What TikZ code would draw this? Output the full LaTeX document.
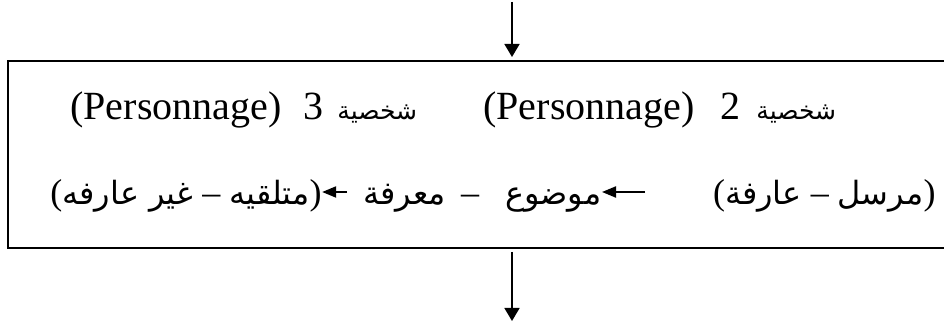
\documentclass[tikz,border=0pt]{standalone}
\usepackage{fontspec}
\setmainfont{Liberation Serif}
\newfontfamily\arabicfont[Script=Arabic]{DejaVu Sans}
\TeXXeTstate=1
\usetikzlibrary{arrows.meta,positioning}
\tikzset{
  flow/.style={line width=0.8pt, -{Triangle[length=6.5pt,width=7.5pt]}},
  link/.style={line width=1pt, -{Triangle[length=7pt,width=5.5pt]}},
  lat/.style={inner sep=0pt, anchor=base west, font=\fontsize{20}{24}\selectfont},
  arb/.style={inner sep=0pt, font=\fontsize{18}{22}\selectfont},
}
\newcommand{\arsmall}[1]{{\arabicfont\fontsize{12.5}{14}\selectfont\beginR #1\endR}}
\newcommand{\arbig}[1]{{\arabicfont\fontsize{16}{20}\selectfont #1}}
\begin{document}
\begin{tikzpicture}[x=0.5pt,y=-0.5pt]
\useasboundingbox (0,0) rectangle (944,325);
\clip (0,0) rectangle (944,325);
\node[draw, line width=1pt, inner sep=0pt, anchor=north west,
  minimum width=475pt, minimum height=93.5pt] (frame) at (7,60) {};
% first row
\node[lat] (pers3) at (70,120) {(Personnage)\hspace{6pt} 3\hspace{2pt} \arsmall{شخصية}};
\node[lat] (pers2) at (483,120) {(Personnage)\hspace{8pt} 2\hspace{3pt} \arsmall{شخصية}};
% second row
\node[arb, anchor=base west] (recv) at (50,205) {(\beginR\arbig{متلقيه} – \arbig{غير عارفه}\endR)};
\node[arb, anchor=base west] (know) at (363,205) {\beginR\arbig{معرفة}\endR};
\node[arb, anchor=base] (sep) at (470,205) {–};
\node[arb, anchor=base east] (obj) at (602,205) {\beginR\arbig{موضوع}\endR};
\node[arb, anchor=base east] (send) at (936,205) {(\beginR\arbig{مرسل} – \arbig{عارفة}\endR)};
\coordinate (tail1) at (347,192);
\coordinate (tail2) at (645,192);
\draw[link] (tail1) -- (tail1 -| recv.east);
\draw[link] (tail2) -- (tail2 -| obj.east);
% flow arrows
\coordinate (in) at (512,2);
\coordinate (out) at (512,321);
\draw[flow, shorten >=1.5pt] (in) -- (in |- frame.north);
\draw[flow, shorten <=1.5pt] (frame.south -| out) -- (out);
\end{tikzpicture}
\end{document}
